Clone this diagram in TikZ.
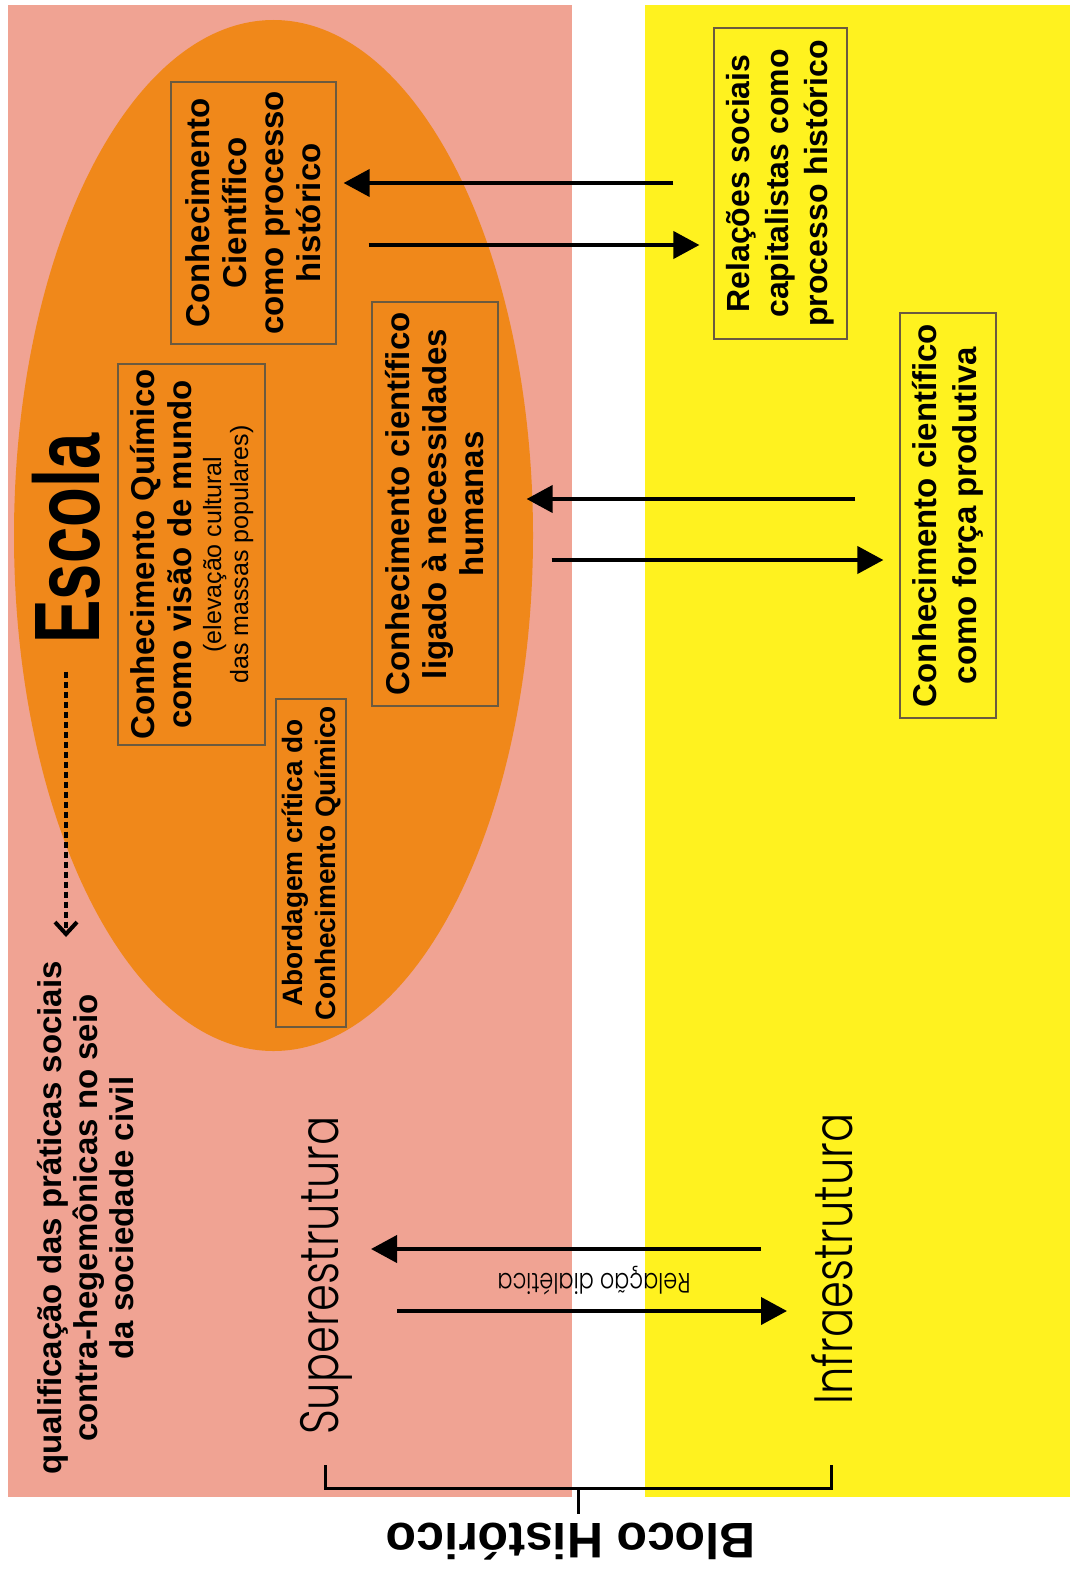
\documentclass[tikz,border=0pt]{standalone}
\usepackage{fontspec}
\setmainfont{Liberation Sans}
\newfontfamily\condfont{Liberation Sans}[FakeStretch=0.70]
\newfontfamily\thinfont{Poppins Light}[FakeStretch=0.80]
\usetikzlibrary{arrows.meta, calc}
\definecolor{salmon}{HTML}{F0A393}
\definecolor{escola}{HTML}{F0881A}
\definecolor{amarelo}{HTML}{FFF21F}
\definecolor{boxline}{HTML}{6B5A3F}
\newcommand{\smalltxt}{\mdseries\fontsize{25}{27}\selectfont}

\begin{document}
\begin{tikzpicture}[
    x=1pt, y=-1pt,
    box/.style={draw=boxline, line width=1.2pt, rotate=90, inner sep=0pt, align=center,
                font=\bfseries\fontsize{33}{37}\selectfont},
    lbl/.style={rotate=90, inner sep=0pt, align=center, font=\bfseries\fontsize{33}{36}\selectfont},
    estrut/.style={rotate=90, inner sep=0pt, anchor=base, font=\thinfont\fontsize{54}{54}\selectfont},
    arr/.style={-{Triangle[length=26pt, width=27pt]}, line width=4pt},
    dasharr/.style={-{Straight Barb[length=12pt, width=22pt]}, line width=4pt, dash pattern=on 6pt off 4pt},
    brack/.style={line width=3pt},
  ]
  \useasboundingbox (0,0) rectangle (1073,1571);
  \fill[salmon] (8,5) rectangle (572,1497);
  \fill[amarelo] (645,5) rectangle (1070,1497);
  \fill[escola] (273.5,535.5) ellipse [x radius=259.5, y radius=515.5];

  \node[rotate=90, inner sep=0pt, font=\condfont\bfseries\fontsize{93}{93}\selectfont] (escola) at (66,538.5) {Escola};
  \node[box, minimum width=262pt, minimum height=165pt] (ccp) at (253.5,213) {Conhecimento\\Científico\\como processo\\histórico};
  \node[box, minimum width=381pt, minimum height=147pt] (cqv) at (191.5,554.5)
    {Conhecimento Químico\\como visão de mundo\\[-7pt]{\smalltxt (elevação cultural}\\[-10pt]{\smalltxt das massas populares)}};
  \node[box, minimum width=328pt, minimum height=70pt, font=\bfseries\fontsize{28}{33}\selectfont] (abc) at (311,863)
    {Abordagem crítica do\\Conhecimento Químico};
  \node[box, minimum width=404pt, minimum height=126pt] (cln) at (435,504) {Conhecimento científico\\ligado à necessidades\\humanas};
  \node[box, minimum width=311pt, minimum height=133pt, font=\bfseries\fontsize{32}{39}\selectfont] (rsc) at (780.5,183.5)
    {Relações sociais\\capitalistas como\\processo histórico};
  \node[box, minimum width=405pt, minimum height=96pt, font=\bfseries\fontsize{33}{40}\selectfont] (cfp) at (948,515.5)
    {Conhecimento científico\\como força produtiva};
  \node[lbl] (qual) at (86,1218) {qualificação das práticas sociais\\contra-hegemônicas no seio\\da sociedade civil};
  \node[estrut] (sup) at (338,1275.5) {Superestrutura};
  \node[estrut] (inf) at (852,1259) {Infraestrutura};
  \node[rotate=180, inner sep=0pt, font=\thinfont\fontsize{28}{28}\selectfont] (reld) at (594,1281) {Relação dialética};
  \node[rotate=180, anchor=base, inner sep=0pt, font=\bfseries\fontsize{50}{50}\selectfont] (bloco) at (571,1523) {Bloco Histórico};

  \coordinate (yA) at (0,183);
  \coordinate (yB) at (0,245);
  \coordinate (yC) at (0,499);
  \coordinate (yD) at (0,560);
  \coordinate (yE) at (0,1249);
  \coordinate (yF) at (0,1311);
  \coordinate (yT) at (0,1465);
  \coordinate (yL) at (0,1488);

  \draw[arr, shorten <=40pt, shorten >=7pt] (rsc.north |- yA) -- (ccp.south |- yA);
  \draw[arr, shorten <=32pt, shorten >=14pt] (ccp.south |- yB) -- (rsc.north |- yB);
  \draw[arr, shorten <=44pt, shorten >=28pt] (cfp.north |- yC) -- (cln.south |- yC);
  \draw[arr, shorten <=53pt, shorten >=16pt] (cln.south |- yD) -- (cfp.north |- yD);
  \draw[arr, shorten <=91pt, shorten >=33pt] (inf.base |- yE) -- (sup.base |- yE);
  \draw[arr, shorten <=59pt, shorten >=65pt] (sup.base |- yF) -- (inf.base |- yF);
  \draw[dasharr, shorten <=28pt, shorten >=24pt] (escola.west) -- (escola.west |- qual.east);

  \draw[brack] (sup.west |- yT) -- (sup.west |- yL) -- (inf.west |- yL) -- (inf.west |- yT);
  \coordinate (stem) at ($(sup.west |- yL)!0.5!(inf.west |- yL)$);
  \draw[brack, shorten >=8pt] (stem) -- (stem |- bloco.south);
\end{tikzpicture}
\end{document}
